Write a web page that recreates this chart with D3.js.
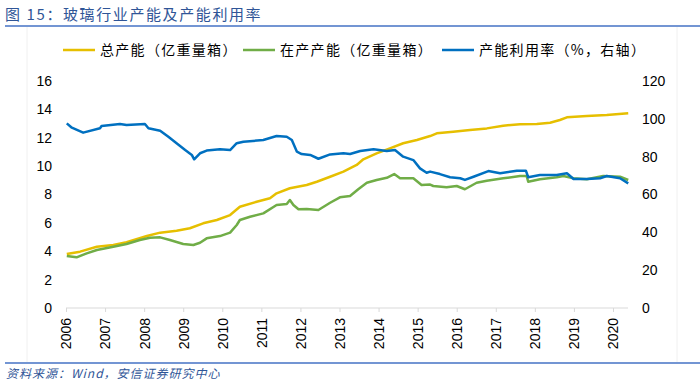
<!DOCTYPE html>
<html>
<head>
<meta charset="utf-8">
<script src="https://cdn.jsdelivr.net/npm/d3@7"></script>
<style>
body{margin:0;background:#fff}
svg{display:block}
</style>
</head>
<body>
<div></div>
<script>
// data (year as decimal)
const totalYears=[2006.02,2006.36,2006.79,2007.21,2007.55,2008.07,2008.41,2008.83,2009.17,2009.51,2009.86,2010.20,2010.45,2010.88,2011.22,2011.39,2011.73,2012.16,2012.42,2012.76,2013.10,2013.44,2013.61,2013.95,2014.29,2014.63,2014.98,2015.32,2015.49,2015.91,2016.34,2016.77,2017.19,2017.62,2018.05,2018.39,2018.64,2018.82,2019.33,2019.84,2020.39]
const totalCap=[3.80,3.97,4.32,4.44,4.63,5.07,5.31,5.45,5.62,5.97,6.20,6.55,7.14,7.49,7.73,8.08,8.44,8.67,8.90,9.25,9.61,10.08,10.48,10.90,11.25,11.61,11.84,12.12,12.31,12.42,12.54,12.66,12.85,12.95,12.97,13.06,13.25,13.44,13.53,13.60,13.72]

const runYears=[2006.02,2006.27,2006.53,2006.79,2007.21,2007.55,2007.89,2008.15,2008.41,2008.66,2009.00,2009.26,2009.43,2009.60,2009.94,2010.20,2010.37,2010.45,2010.71,2011.05,2011.39,2011.65,2011.73,2011.82,2011.95,2012.16,2012.46,2012.76,2013.01,2013.27,2013.48,2013.70,2013.95,2014.21,2014.40,2014.55,2014.89,2015.10,2015.32,2015.40,2015.74,2016.00,2016.21,2016.51,2016.77,2017.19,2017.62,2017.79,2017.83,2018.13,2018.56,2018.73,2018.99,2019.33,2019.75,2020.18,2020.39]
const runCap=[3.66,3.57,3.85,4.09,4.32,4.51,4.79,4.95,4.98,4.79,4.51,4.44,4.60,4.91,5.07,5.31,5.85,6.20,6.43,6.67,7.26,7.33,7.61,7.26,6.96,6.98,6.91,7.42,7.80,7.89,8.37,8.83,9.02,9.18,9.44,9.14,9.14,8.67,8.70,8.60,8.51,8.60,8.37,8.83,8.97,9.14,9.30,9.30,8.90,9.07,9.21,9.30,9.14,9.07,9.30,9.25,9.02]

const rateYears=[2006.02,2006.15,2006.44,2006.87,2006.91,2007.38,2007.55,2008.02,2008.11,2008.41,2008.62,2008.83,2009.05,2009.22,2009.28,2009.43,2009.60,2009.94,2010.20,2010.37,2010.54,2011.05,2011.39,2011.65,2011.78,2011.91,2012.03,2012.25,2012.46,2012.76,2013.10,2013.27,2013.53,2013.87,2014.21,2014.42,2014.63,2014.89,2015.06,2015.23,2015.32,2015.57,2015.83,2016.09,2016.21,2016.43,2016.81,2017.11,2017.54,2017.77,2017.83,2018.13,2018.56,2018.82,2018.99,2019.33,2019.67,2019.84,2020.18,2020.39]
const rateVals=[97.6,95.3,92.7,95.0,96.2,97.3,96.7,97.3,95.0,93.7,90.5,87.1,83.5,80.9,78.6,81.8,83.2,83.9,83.5,87.1,87.9,88.8,90.9,90.5,88.8,82.6,81.4,80.9,78.9,81.2,81.8,81.4,83.0,83.9,83.0,83.5,80.0,78.2,73.8,71.5,72.1,70.8,69.1,68.6,67.7,69.4,72.4,71.2,72.6,72.6,69.1,70.3,70.3,71.2,68.2,68.2,68.6,69.8,68.6,65.9]

const yearTicks=d3.range(2006,2021)
const leftTicks=d3.range(0,17,2)
const rightTicks=d3.range(0,121,20)

const W=700,H=385
const svg=d3.select("div").append("svg").attr("width",W).attr("height",H)
const cn='"Noto Sans CJK SC","Noto Sans",sans-serif'
const num='"Liberation Sans",Arial,sans-serif'

// title + rules
svg.append("text").attr("x",5).attr("y",20).attr("font-family",cn).attr("font-size",15)
  .attr("letter-spacing",1.6).attr("fill","#2f5597").text("图 15：玻璃行业产能及产能利用率")
svg.append("line").attr("x1",5).attr("x2",700).attr("y1",26).attr("y2",26).attr("stroke","#4472c4").attr("stroke-width",1.5)
svg.append("line").attr("x1",5).attr("x2",700).attr("y1",363).attr("y2",363).attr("stroke","#4472c4").attr("stroke-width",1.5)
svg.append("text").attr("x",6).attr("y",378).attr("font-family",cn).attr("font-size",12)
  .attr("letter-spacing",1).attr("font-style","italic").attr("fill","#2f5597").text("资料来源：Wind，安信证券研究中心")
// faint frame of chart area
svg.append("line").attr("x1",27).attr("x2",27).attr("y1",27).attr("y2",362).attr("stroke","#f0f0f0")
svg.append("line").attr("x1",677).attr("x2",677).attr("y1",27).attr("y2",362).attr("stroke","#f0f0f0")

const x=d3.scaleLinear().domain([2006,2020]).range([66,613])
const yL=d3.scaleLinear().domain([0,16]).range([308,81])
const yR=d3.scaleLinear().domain([0,120]).range([308,81])

// x axis
const xAxis=d3.axisBottom(x).tickValues(yearTicks).tickFormat(d3.format("d")).tickSize(4).tickSizeOuter(0)
const gx=svg.append("g").attr("transform","translate(0,308)").call(xAxis)
gx.select(".domain").attr("d","M66,0H628").attr("stroke","#d9d9d9")
gx.selectAll(".tick line").attr("stroke","#d9d9d9")
gx.selectAll("text").attr("font-family",num).attr("font-size",14).attr("fill","#000")
  .attr("text-anchor","end").attr("transform","rotate(-90)").attr("x",-10).attr("y",0).attr("dy","0.35em")

// left axis
const gl=svg.append("g").attr("transform","translate(52,0)")
  .call(d3.axisLeft(yL).tickValues(leftTicks).tickSize(0).tickPadding(0))
gl.select(".domain").remove()
gl.selectAll("text").attr("font-family",num).attr("font-size",14).attr("fill","#000")

// right axis
const gr=svg.append("g").attr("transform","translate(642,0)")
  .call(d3.axisRight(yR).tickValues(rightTicks).tickSize(0).tickPadding(0))
gr.select(".domain").remove()
gr.selectAll("text").attr("font-family",num).attr("font-size",14).attr("fill","#000")

// lines
function drawLine(xs,vs,scale,color){
  const pts=xs.map((d,i)=>[d,vs[i]])
  svg.append("path").datum(pts)
    .attr("d",d3.line().x(d=>x(d[0])).y(d=>scale(d[1])))
    .attr("fill","none").attr("stroke",color).attr("stroke-width",2.5).attr("stroke-linejoin","round")
}
drawLine(totalYears,totalCap,yL,"#e6bf00")
drawLine(runYears,runCap,yL,"#70ad47")
drawLine(rateYears,rateVals,yR,"#0070c0")

// legend
const legend=[
  {label:"总产能（亿重量箱）",color:"#e6bf00",x:63},
  {label:"在产产能（亿重量箱）",color:"#70ad47",x:243},
  {label:"产能利用率（%，右轴）",color:"#0070c0",x:442}
]
const lg=svg.selectAll("g.leg").data(legend).join("g").attr("class","leg")
  .attr("transform",d=>`translate(${d.x},50)`)
lg.append("line").attr("x1",0).attr("x2",32).attr("stroke",d=>d.color).attr("stroke-width",2.5)
lg.append("text").attr("x",37).attr("dy","0.35em").attr("font-family",cn).attr("font-size",14)
  .attr("letter-spacing",1.3).attr("fill","#000").text(d=>d.label)
</script>
</body>
</html>
